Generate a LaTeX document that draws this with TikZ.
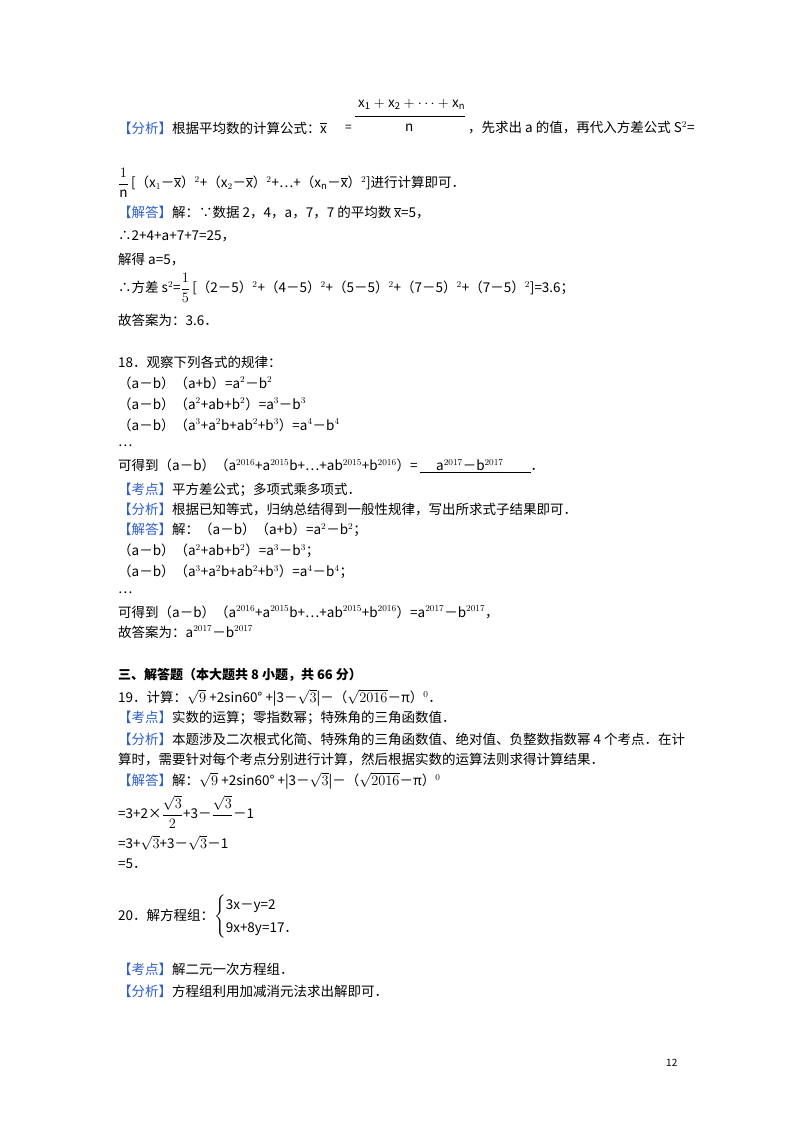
\documentclass[tikz,border=0pt]{standalone}
\usepackage{amsmath}
\usepackage{fontspec}
\setmainfont{Noto Sans CJK SC}
\definecolor{bl}{HTML}{2F5FC8}
\newcommand\hl[1]{\textcolor{bl}{#1}}
\tikzset{t/.style={anchor=west,inner sep=0pt,font=\fontsize{13.5}{16}\selectfont},
 s/.style={anchor=west,inner sep=0pt,font=\fontsize{12}{14}\selectfont}}
\begin{document}
\begin{tikzpicture}[x=1pt,y=-1pt]
\useasboundingbox[fill=white] (0,0) rectangle (800,1132);
% problem 17 solution
\node[t] (l1) at (118,128) {\hl{【分析】}根据平均数的计算公式：};
\node[t] (xb) at (320,128) {$\overline{\mathrm{x}}$};
\node[s] (eq) at (345,128) {=};
\node[t] (num) at (358,104) {$\mathrm{x_1+x_2+\cdots+x_n}$};
\draw (355,116) -- (465,116);
\node[t] (den) at (405,128) {$\mathrm{n}$};
\node[t] (l1b) at (468,128) {，先求出 a 的值，再代入方差公式 S$^2$=};
\node[t] (f1) at (118,183) {$\dfrac{1}{\mathrm{n}}$\,[（x$_1$－$\overline{\mathrm{x}}$）$^2$+（x$_2$－$\overline{\mathrm{x}}$）$^2$+…+（x$_\mathrm{n}$－$\overline{\mathrm{x}}$）$^2$]进行计算即可．};
\node[t] (l3) at (118,213) {\hl{【解答】}解：∵数据 2，4，a，7，7 的平均数 $\overline{\mathrm{x}}$=5，};
\node[t] (l4) at (118,236) {∴2+4+a+7+7=25，};
\node[t] (l5) at (118,260) {解得 a=5，};
\node[t] (l6) at (118,288) {∴方差 s$^2$=$\dfrac{1}{5}$\,[（2－5）$^2$+（4－5）$^2$+（5－5）$^2$+（7－5）$^2$+（7－5）$^2$]=3.6；};
\node[t] (l7) at (118,320) {故答案为：3.6．};
% problem 18
\node[t] (p18) at (118,362) {18．观察下列各式的规律：};
\node[t] (a1) at (118,383) {（a－b）（a+b）=a$^2$－b$^2$};
\node[t] (a2) at (118,404) {（a－b）（a$^2$+ab+b$^2$）=a$^3$－b$^3$};
\node[t] (a3) at (118,425) {（a－b）（a$^3$+a$^2$b+ab$^2$+b$^3$）=a$^4$－b$^4$};
\node[t] (a4) at (118,446) {…};
\node[t] (a5) at (118,466) {可得到（a－b）（a$^{2016}$+a$^{2015}$b+…+ab$^{2015}$+b$^{2016}$）=\,\underline{\hspace{1.2em}a$^{2017}$－b$^{2017}$\hspace{2em}}．};
\node[t] (k18) at (118,490) {\hl{【考点】}平方差公式；多项式乘多项式．};
\node[t] (f18) at (118,510) {\hl{【分析】}根据已知等式，归纳总结得到一般性规律，写出所求式子结果即可．};
\node[t] (j18) at (118,530) {\hl{【解答】}解：（a－b）（a+b）=a$^2$－b$^2$；};
\node[t] (b2) at (118,551) {（a－b）（a$^2$+ab+b$^2$）=a$^3$－b$^3$；};
\node[t] (b3) at (118,572) {（a－b）（a$^3$+a$^2$b+ab$^2$+b$^3$）=a$^4$－b$^4$；};
\node[t] (b4) at (118,593) {…};
\node[t] (b5) at (118,612) {可得到（a－b）（a$^{2016}$+a$^{2015}$b+…+ab$^{2015}$+b$^{2016}$）=a$^{2017}$－b$^{2017}$，};
\node[t] (b6) at (118,632) {故答案为：a$^{2017}$－b$^{2017}$};
% section 3
\node[t,font=\fontsize{13}{15}\selectfont] (hd) at (118,675) {\textbf{三、解答题（本大题共 8 小题，共 66 分）}};
\node[t] (p19) at (118,698) {19．计算：$\sqrt{9}$ +2sin60° +|3－$\sqrt{3}$|－（$\sqrt{2016}$－π）$^0$．};
\node[t] (k19) at (118,718) {\hl{【考点】}实数的运算；零指数幂；特殊角的三角函数值．};
\node[t] (f19) at (118,739) {\hl{【分析】}本题涉及二次根式化简、特殊角的三角函数值、绝对值、负整数指数幂 4 个考点．在计};
\node[t] (f19b) at (118,759) {算时，需要针对每个考点分别进行计算，然后根据实数的运算法则求得计算结果．};
\node[t] (j19) at (118,781) {\hl{【解答】}解：$\sqrt{9}$ +2sin60° +|3－$\sqrt{3}$|－（$\sqrt{2016}$－π）$^0$};
\node[t] (c1) at (118,812) {=3+2×$\dfrac{\sqrt{3}}{2}$+3－$\dfrac{\sqrt{3}}{\phantom{2}}$－1};
\node[t] (c2) at (118,843) {=3+$\sqrt{3}$+3－$\sqrt{3}$－1};
\node[t] (c3) at (118,864) {=5．};
% problem 20
\node[t] (p20) at (118,917) {20．解方程组：$\begin{cases}\text{3x－y=2}\\[4pt]\text{9x+8y=17．}\end{cases}$};
\node[t] (k20) at (118,969) {\hl{【考点】}解二元一次方程组．};
\node[t] (f20) at (118,991) {\hl{【分析】}方程组利用加减消元法求出解即可．};
\node[s,font=\fontsize{10}{12}\selectfont] (pg) at (666,1063) {12};
\end{tikzpicture}
\end{document}
